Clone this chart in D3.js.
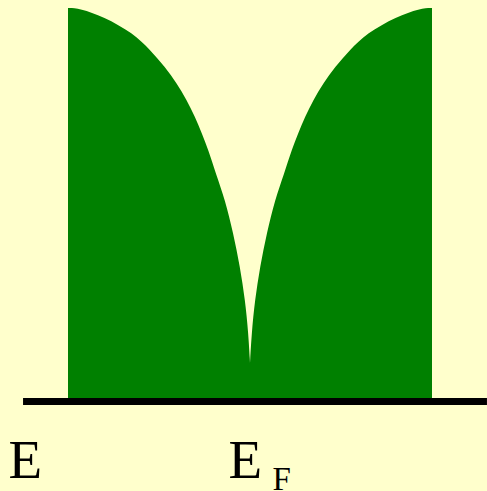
<!DOCTYPE html>
<html>
<head>
<meta charset="utf-8">
<script src="https://cdn.jsdelivr.net/npm/d3@7"></script>
<style>
  html, body { margin: 0; padding: 0; background: #ffffcc; }
  svg { display: block; }
</style>
</head>
<body>
<svg id="svg_dos" width="487" height="491"></svg>
<script>
// energy relative to E_F (band edges at -1 and +1)
const energy = [-1.0, -0.934, -0.806, -0.640, -0.549, -0.467, -0.403, -0.348, -0.302, -0.265, -0.229,
                -0.188, -0.137, -0.092, -0.055, -0.027, -0.009, 0.0,
                0.009, 0.027, 0.055, 0.092, 0.137, 0.188,
                0.229, 0.265, 0.302, 0.348, 0.403, 0.467, 0.549, 0.640, 0.806, 0.934, 1.0];
// density of states (normalised)
const density = [1.0, 0.999, 0.978, 0.935, 0.892, 0.849, 0.807, 0.764, 0.721, 0.679, 0.636,
                 0.576, 0.508, 0.422, 0.337, 0.251, 0.166, 0.090,
                 0.166, 0.251, 0.337, 0.422, 0.508, 0.576,
                 0.636, 0.679, 0.721, 0.764, 0.807, 0.849, 0.892, 0.935, 0.978, 0.999, 1.0];
// energy axis extent
const axisExtent = [-1.247, 1.302];
const labels = ["E", "E", "F"];

let svg = d3.select("#svg_dos");

let xScale = d3.scaleLinear()
    .domain([-1, 1])
    .range([68, 432]);

let yScale = d3.scaleLinear()
    .domain([0, 1])
    .range([398, 8]);

let data = energy.map((e, i) => ({e: e, d: density[i]}));

// each half drawn on its own so the cusp at E_F stays sharp
let halves = [data.filter(d => d.e <= 0), data.filter(d => d.e >= 0)];

let area = d3.area()
    .x(d => xScale(d.e))
    .y0(yScale(0))
    .y1(d => yScale(d.d))
    .curve(d3.curveBasis);

svg.append("g")
    .selectAll("path")
    .data(halves)
    .enter()
    .append("path")
        .attr("d", area)
        .attr("fill", "#008000");

// baseline
svg.append("line")
    .attr("x1", xScale(axisExtent[0]))
    .attr("x2", xScale(axisExtent[1]))
    .attr("y1", yScale(0) + 3.5)
    .attr("y2", yScale(0) + 3.5)
    .attr("stroke", "black")
    .attr("stroke-width", 7);

let font = "'Liberation Serif', 'Times New Roman', serif";

svg.append("text")
    .attr("x", 8.5)
    .attr("y", 478.3)
    .attr("font-family", font)
    .attr("font-size", 55)
    .attr("fill", "black")
    .text(labels[0]);

svg.append("text")
    .attr("x", 228.5)
    .attr("y", 478.3)
    .attr("font-family", font)
    .attr("font-size", 55)
    .attr("fill", "black")
    .text(labels[1]);

svg.append("text")
    .attr("x", 272.5)
    .attr("y", 490)
    .attr("font-family", font)
    .attr("font-size", 33)
    .attr("fill", "black")
    .text(labels[2]);
</script>
</body>
</html>
